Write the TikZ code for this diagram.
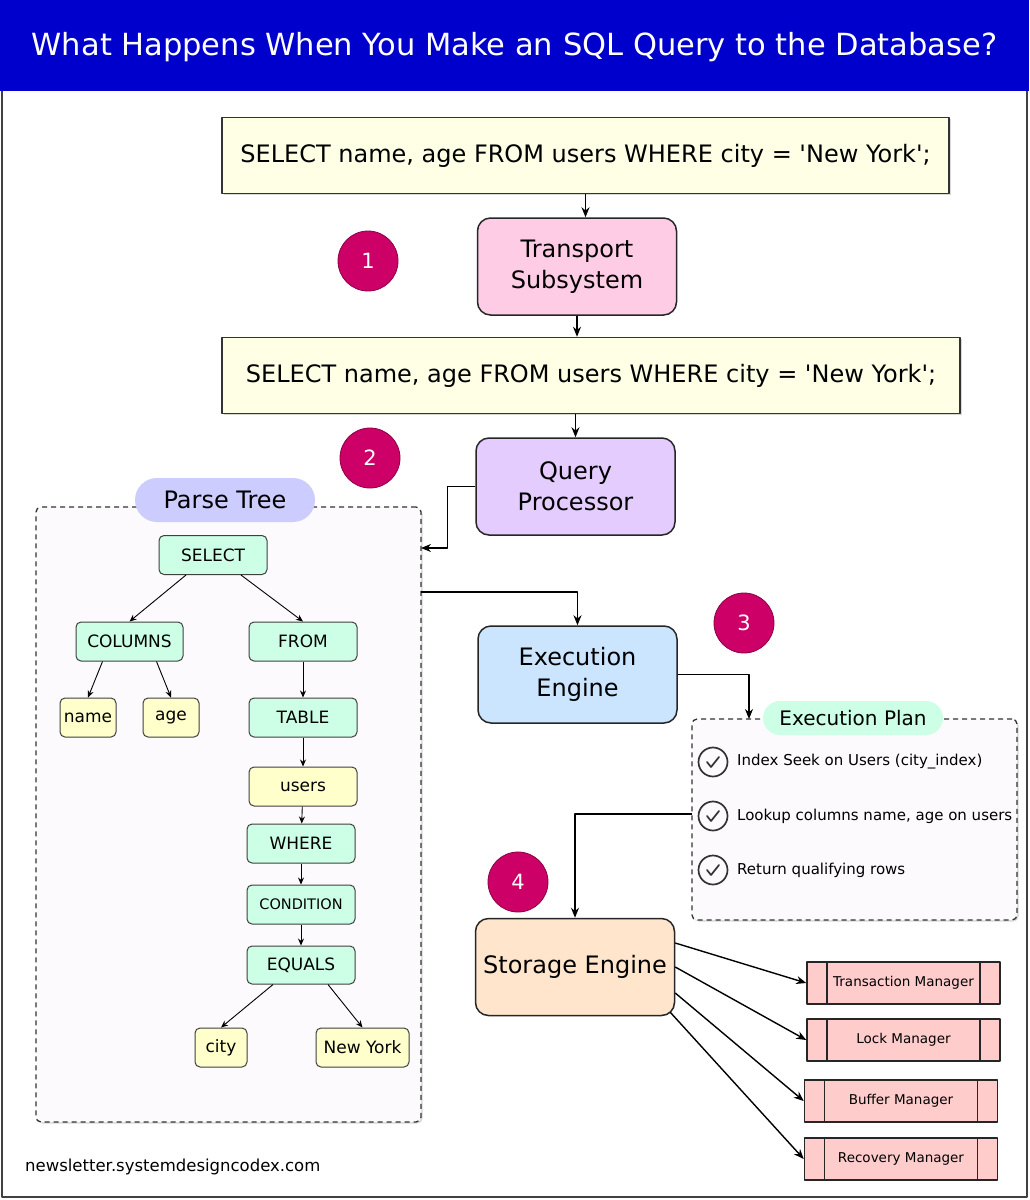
\documentclass[tikz,border=0pt]{standalone}
\usepackage{fontspec}
\setmainfont{DejaVu Sans}
\usetikzlibrary{arrows.meta,shadows}
\definecolor{titleblue}{HTML}{0000CC}
\definecolor{qyellow}{HTML}{FFFFE6}
\definecolor{tpink}{HTML}{FFCCE6}
\definecolor{qpurple}{HTML}{E5CCFF}
\definecolor{eblue}{HTML}{CCE5FF}
\definecolor{sorange}{HTML}{FFE5CC}
\definecolor{numfill}{HTML}{CC0066}
\definecolor{numedge}{HTML}{8C0046}
\definecolor{panelfill}{HTML}{FCFAFC}
\definecolor{ptag}{HTML}{CCCCFF}
\definecolor{mint}{HTML}{CCFFE6}
\definecolor{leafy}{HTML}{FFFFCC}
\definecolor{mpink}{HTML}{FFCCCC}
\tikzset{
  softshadow/.style={drop shadow={shadow xshift=1.5pt, shadow yshift=-1.5pt, opacity=.25, fill=black!60}},
  query/.style={draw=black!80, line width=1.5pt, fill=qyellow, inner sep=0pt, minimum height=76pt, font=\fontsize{24}{30}\selectfont, softshadow},
  stage/.style={draw=black!85, line width=1.5pt, rounded corners=13pt, inner sep=0pt, align=center, minimum width=199pt, minimum height=97pt, font=\fontsize{24}{31}\selectfont},
  num/.style={circle, draw=numedge, line width=.8pt, fill=numfill, text=white, minimum size=60pt, inner sep=0pt, font=\fontsize{21}{21}\selectfont},
  panel/.style={draw=black!80, dash pattern=on 5pt off 4pt, line width=1.3pt, fill=panelfill, rounded corners=5pt, inner sep=0pt, softshadow},
  tag/.style={rounded corners=17pt, inner sep=0pt, minimum width=180pt},
  tnode/.style={draw=black!75, line width=1pt, rounded corners=5pt, fill=mint, minimum width=108pt, minimum height=39pt, inner sep=0pt, font=\fontsize{17}{17}\selectfont},
  leaf/.style={tnode, fill=leafy},
  mgr/.style={draw=black!85, line width=1.5pt, fill=mpink, minimum width=193pt, minimum height=42pt, inner sep=0pt, font=\fontsize{13.5}{14}\selectfont,
    path picture={\draw[line width=1.5pt, black!85] ([xshift=20pt]path picture bounding box.north west) -- ([xshift=20pt]path picture bounding box.south west)
      ([xshift=-20pt]path picture bounding box.north east) -- ([xshift=-20pt]path picture bounding box.south east);}},
  flow/.style={-{Stealth[length=10pt,width=8pt]}, line width=1.4pt},
  tlink/.style={-{Stealth[length=7pt,width=6pt]}, line width=.9pt},
  checkmark/.pic={\draw[line width=1.7pt, black!80] (0,0) circle (14.5);
    \draw[line width=1.7pt, black!80, line cap=round] (-6,0) -- (-2,5) -- (6,-5);}
}
\begin{document}
\begin{tikzpicture}[x=1pt, y=-1pt, line join=round]
\useasboundingbox (0,0) rectangle (1029,1200);
% frame and title
\fill[white] (0,0) rectangle (1029,1200);
\draw[black!75, line width=1.2pt] (2,1) rectangle (1027,1197);
\fill[titleblue] (0,0) rectangle (1029,91);
\node[text=white, font=\fontsize{30.5}{32}\selectfont] (title) at (514.5,47) {What Happens When You Make an SQL Query to the Database?};
% query path
\node[query, minimum width=727pt] (q1) at (585.5,155.5) {SELECT name, age FROM users WHERE city = \textquotesingle New York\textquotesingle;};
\node[stage, fill=tpink] (tsub) at (577,266.5) {Transport\\Subsystem};
\node[query, minimum width=738pt] (q2) at (591,375.5) {SELECT name, age FROM users WHERE city = \textquotesingle New York\textquotesingle;};
\node[stage, fill=qpurple] (qproc) at (575.5,486.5) {Query\\Processor};
\node[stage, fill=eblue] (exec) at (577.5,674.5) {Execution\\Engine};
\node[stage, fill=sorange] (store) at (575,967) {Storage Engine};
% step numbers
\node[num] (n1) at (368,261) {1};
\node[num] (n2) at (370,458) {2};
\node[num] (n3) at (744,623) {3};
\node[num] (n4) at (518,882) {4};
% parse tree panel
\node[panel, minimum width=385pt, minimum height=615pt] (ptree) at (228.5,814.5) {};
\node[tag, fill=ptag, minimum height=44pt, rounded corners=22pt, font=\fontsize{24}{24}\selectfont] (pttag) at (225,500) {Parse Tree};
\coordinate (ptin) at (421,548);
\coordinate (ptout) at (421,592);
\node[tnode] (sel) at (213,555) {SELECT};
\node[tnode, minimum width=107pt] (cols) at (129.5,641.5) {COLUMNS};
\node[tnode] (from) at (303,641.5) {FROM};
\node[leaf, minimum width=56pt] (name) at (88,717.5) {name};
\node[leaf, minimum width=56pt] (age) at (171,717.5) {age};
\node[tnode] (table) at (303,717.5) {TABLE};
\node[leaf] (users) at (303,786.5) {users};
\node[tnode] (where) at (301,843.5) {WHERE};
\node[tnode, font=\fontsize{14.5}{15}\selectfont] (cond) at (301,904.5) {CONDITION};
\node[tnode, minimum height=38pt] (equals) at (301,965) {EQUALS};
\node[leaf, minimum width=52pt] (city) at (221,1047.5) {city};
\node[leaf, minimum width=93pt] (ny) at (362.5,1047.5) {New York};
\draw[tlink] ([xshift=-27pt]sel.south) -- (cols.north);
\draw[tlink] ([xshift=28pt]sel.south) -- (from.north);
\draw[tlink] ([xshift=-27pt]cols.south) -- (name.north);
\draw[tlink] ([xshift=27pt]cols.south) -- (age.north);
\draw[tlink] (from) -- (table);
\draw[tlink] (table) -- (users);
\draw[tlink] (users) -- (where);
\draw[tlink] (where) -- (cond);
\draw[tlink] (cond) -- (equals);
\draw[tlink] ([xshift=-28pt]equals.south) -- (city.north);
\draw[tlink] ([xshift=27pt]equals.south) -- (ny.north);
% execution plan panel
\node[panel, minimum width=325pt, minimum height=201pt] (plan) at (854.5,819.5) {};
\node[tag, fill=mint, minimum height=34pt, font=\fontsize{20}{20}\selectfont] (plantag) at (853,718) {Execution Plan};
\coordinate (planin) at (749,719);
\coordinate (planout) at (692,814);
\foreach \y/\t in {762/{Index Seek on Users (city\_index)}, 816/{Lookup columns name, age on users}, 870/{Return qualifying rows}}{
  \pic at (713,\y) {checkmark};
  \node[anchor=west, inner sep=0pt, font=\fontsize{15}{16}\selectfont] at (737,\y) {\t};
}
% storage managers
\node[mgr] (tm) at (903.5,983) {Transaction Manager};
\node[mgr] (lm) at (903.5,1040) {Lock Manager};
\node[mgr] (bm) at (901,1101) {Buffer Manager};
\node[mgr] (rm) at (901,1159) {Recovery Manager};
% connectors
\draw[flow] (q1.south) -- (q1.south |- tsub.north);
\draw[flow] (tsub.south) -- (tsub.south |- q2.north);
\draw[flow] (qproc.north |- q2.south) -- (qproc.north);
\draw[flow] (qproc.west) -- ++(-28,0) |- (ptin);
\draw[flow] (ptout) -| (exec.north);
\draw[flow] (exec.east) -| (planin);
\draw[flow] (planout) -| (store.north);
\draw[flow] ([yshift=24pt]store.east) -- (tm.west);
\draw[flow] (store.east) -- (lm.west);
\draw[flow] ([yshift=-26pt]store.east) -- (bm.west);
\draw[flow] ([xshift=-5pt,yshift=4pt]store.south east) -- (rm.west);
% footer
\node[anchor=west, inner sep=0pt, font=\fontsize{16.5}{17}\selectfont] (foot) at (25,1167) {newsletter.systemdesigncodex.com};
\end{tikzpicture}
\end{document}
